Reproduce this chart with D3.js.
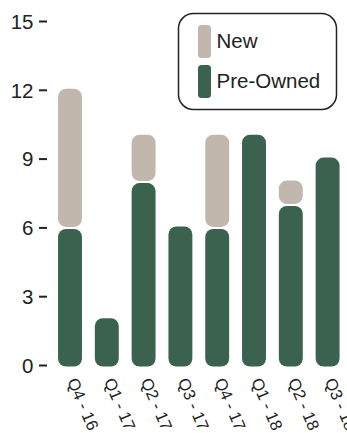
<!DOCTYPE html>
<html><head><meta charset="utf-8">
<script src="https://cdn.jsdelivr.net/npm/d3@7"></script>
<style>html,body{margin:0;padding:0;background:#fff;}svg{display:block;}</style>
</head><body>
<script>
const categories = ["Q4 - 16","Q1 - 17","Q2 - 17","Q3 - 17","Q4 - 17","Q1 - 18","Q2 - 18","Q3 - 18"];
const preOwned = [6, 2, 8, 6, 6, 10, 7, 9];
const newVals = [6, 0, 2, 0, 4, 0, 1, 0];
const yTicks = [0, 3, 6, 9, 12, 15];
const seriesNames = ["New", "Pre-Owned"];
const colors = {"New": "#c1b7ad", "Pre-Owned": "#3a624f"};

const W = 347, H = 433;
const svg = d3.select("body").append("svg").attr("width", W).attr("height", H)
  .style("font-family", "'Liberation Sans', Arial, Helvetica, sans-serif");

const x = d3.scaleBand().domain(categories).range([51.6, 346]).paddingInner(0.35).paddingOuter(0.175);
const y = d3.scaleLinear().domain([0, 15]).range([365.5, 21.5]);

// y axis: short dashes + labels
const yg = svg.append("g");
yg.selectAll("line").data(yTicks).join("line")
  .attr("x1", 39).attr("x2", 47).attr("y1", d => y(d)).attr("y2", d => y(d))
  .attr("stroke", "#222").attr("stroke-width", 2);
yg.selectAll("text").data(yTicks).join("text")
  .attr("x", 33.5).attr("y", d => y(d)).attr("dy", "0.36em")
  .attr("text-anchor", "end").attr("font-size", 20.5).attr("fill", "#222")
  .text(d => d);

// stacked bars
const rows = categories.map((c, i) => ({cat: c, "Pre-Owned": preOwned[i], "New": newVals[i]}));
const stack = d3.stack().keys(["Pre-Owned", "New"]);
const layers = stack(rows);
const segs = [];
layers.forEach(layer => {
  layer.forEach(d => {
    if (d[1] - d[0] > 0) {
      const total = d.data["Pre-Owned"] + d.data["New"];
      segs.push({key: layer.key, cat: d.data.cat, v0: d[0], v1: d[1], isTop: d[1] === total});
    }
  });
});
svg.append("g").selectAll("rect").data(segs).join("rect")
  .attr("x", d => x(d.cat))
  .attr("width", x.bandwidth())
  .attr("y", d => y(d.v1) + (d.isTop ? -1.5 : 1))
  .attr("height", d => (y(d.v0) + (d.v0 === 0 ? 1 : -1)) - (y(d.v1) + (d.isTop ? -1.5 : 1)))
  .attr("rx", 8).attr("ry", 8)
  .attr("fill", d => colors[d.key]);

// x labels rotated
svg.append("g").selectAll("text").data(categories).join("text")
  .attr("transform", d => `translate(${x(d) + x.bandwidth()/2 - 3},${381}) rotate(67)`)
  .attr("text-anchor", "start").attr("font-size", 16.5).attr("fill", "#222")
  .text(d => d);

// legend
const lg = svg.append("g");
lg.append("rect").attr("x", 178.5).attr("y", 13.5).attr("width", 158).attr("height", 96)
  .attr("rx", 15).attr("ry", 15).attr("fill", "#fff").attr("stroke", "#222").attr("stroke-width", 1.5);
const legY = [25, 65];
lg.selectAll("rect.sw").data(seriesNames).join("rect").attr("class", "sw")
  .attr("x", 198).attr("y", (d, i) => legY[i]).attr("width", 13).attr("height", 33)
  .attr("rx", 3.5).attr("fill", d => colors[d]);
lg.selectAll("text").data(seriesNames).join("text")
  .attr("x", 216.5).attr("y", (d, i) => legY[i] + 22.5)
  .attr("font-size", 20.5).attr("fill", "#222").text(d => d);
</script>
</body></html>
